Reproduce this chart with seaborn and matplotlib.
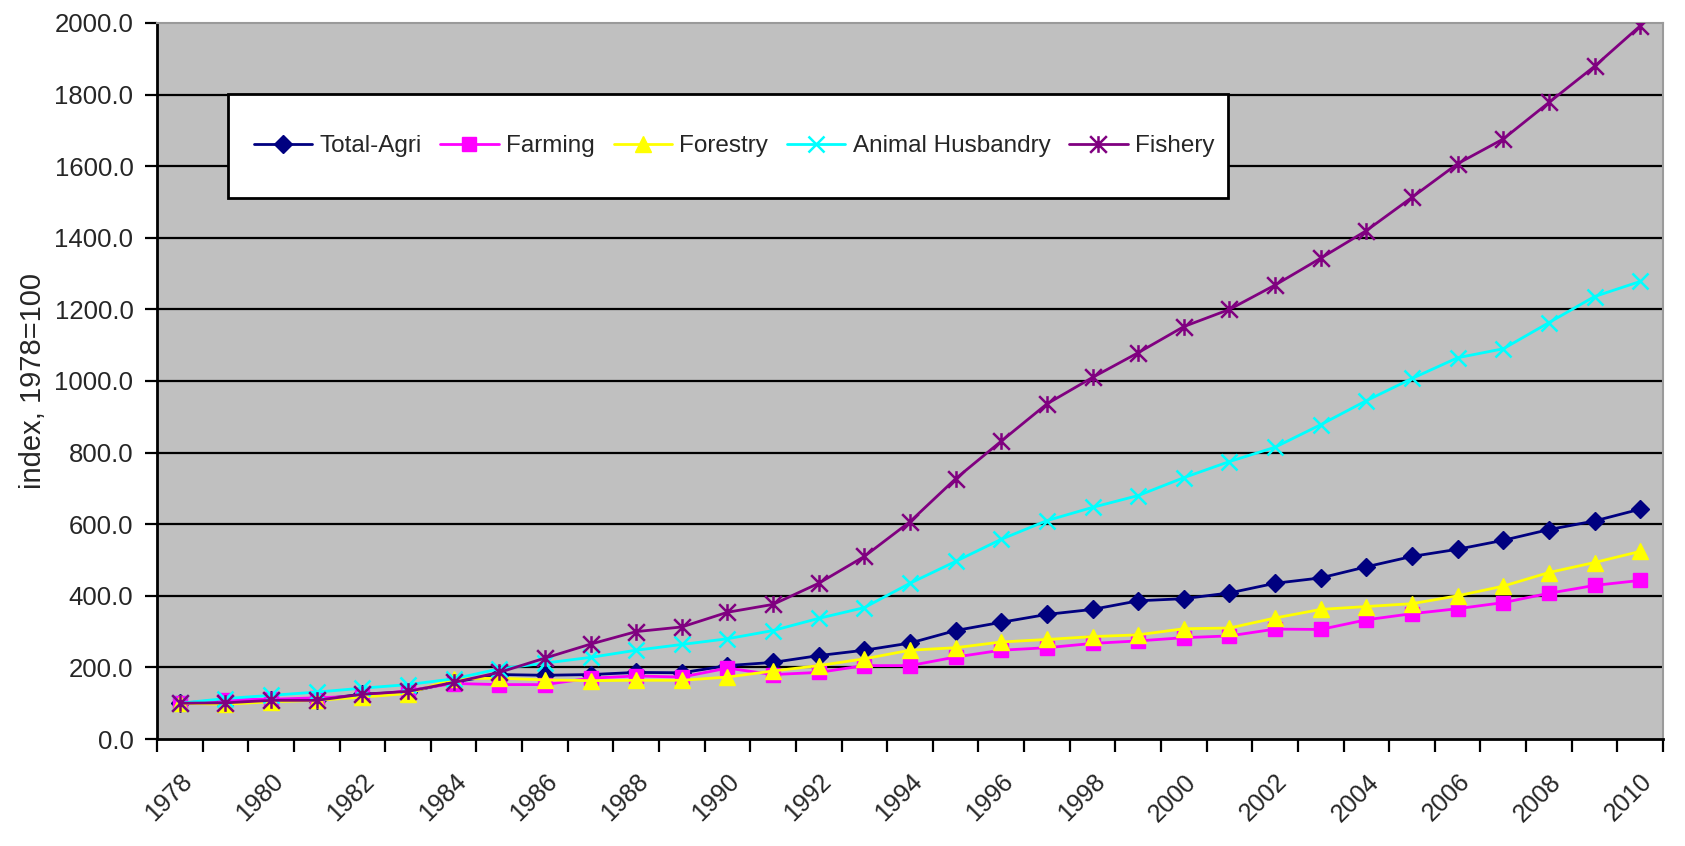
import numpy as np
import pandas as pd
import matplotlib
matplotlib.use("Agg")
import matplotlib.pyplot as plt
from matplotlib.path import Path
from matplotlib.patches import Rectangle
from matplotlib.ticker import FixedLocator, NullFormatter
import seaborn as sns

years = list(range(1978, 2011))
total_agri = [100, 101, 110, 110, 125, 131, 159, 180, 178, 180, 186, 185, 205, 214,
              233, 248, 268, 303, 326, 348, 362, 386, 392, 408, 435, 450, 481, 510,
              530, 555, 585, 609, 642]
farming = [100, 110, 111, 115, 120, 135, 155, 152, 152, 170, 176, 173, 198, 180,
           186, 205, 205, 229, 248, 255, 267, 274, 283, 288, 307, 306, 333, 350,
           364, 381, 407, 429, 443]
forestry = [100, 97, 104, 108, 117, 127, 168, 170, 165, 163, 164, 164, 173, 190,
            205, 224, 248, 255, 271, 278, 286, 291, 308, 310, 338, 362, 370, 378,
            400, 427, 465, 493, 524]
animal_husbandry = [100, 113, 122, 131, 142, 152, 168, 196, 212, 228, 248, 264, 280,
                    303, 337, 367, 435, 496, 558, 610, 647, 680, 730, 775, 815, 878,
                    945, 1007, 1065, 1090, 1163, 1236, 1278]
fishery = [100, 101, 108, 108, 125, 133, 158, 186, 226, 265, 300, 313, 354, 376,
           435, 510, 607, 727, 832, 936, 1010, 1079, 1152, 1200, 1268, 1343, 1420,
           1513, 1607, 1676, 1778, 1879, 1992]

series_names = ["Total-Agri", "Farming", "Forestry", "Animal Husbandry", "Fishery"]
series_values = [total_agri, farming, forestry, animal_husbandry, fishery]
colors = ["#000080", "#FF00FF", "#FFFF00", "#00FFFF", "#800080"]

# Star marker: an "x" crossed by a vertical stroke
star = Path([(-1, -1), (1, 1), (-1, 1), (1, -1), (0, -1), (0, 1)],
            [Path.MOVETO, Path.LINETO, Path.MOVETO, Path.LINETO, Path.MOVETO, Path.LINETO])
markers = ["D", "s", "^", "x", star]
msizes = [9.5, 10, 11, 11, 12]

rows = []
for name, vals in zip(series_names, series_values):
    for i, (yr, v) in enumerate(zip(years, vals)):
        rows.append({"series": name, "pos": i, "year": yr, "value": v})
df = pd.DataFrame(rows)

sns.set_theme(style="white")
plt.rcParams["font.family"] = ["Liberation Sans", "DejaVu Sans"]

fig = plt.figure(figsize=(16.85, 8.46), dpi=100)
ax = fig.add_axes([157 / 1685, 1 - 739 / 846, 1506 / 1685, 716 / 846])
ax.set_facecolor("#C0C0C0")

for name, col, mk, ms in zip(series_names, colors, markers, msizes):
    sub = df[df["series"] == name]
    sns.lineplot(data=sub, x="pos", y="value", ax=ax, color=col, marker=mk,
                 markersize=ms, markeredgecolor=col, markerfacecolor=col,
                 markeredgewidth=1.8 if name in ("Animal Husbandry", "Fishery") else 1,
                 linewidth=2.0, label=name, zorder=3)

ax.set_xlim(-0.5, len(years) - 0.5)
ax.set_ylim(0, 2000)

# y axis
yt = np.arange(0, 2001, 200)
ax.set_yticks(yt)
ax.set_yticklabels([f"{v:.1f}" for v in yt], fontsize=18.5)
for v in yt[1:-1]:
    ax.axhline(v, color="black", lw=1.6, zorder=1)

# x axis: tick marks at category boundaries, labels at every second category
ax.xaxis.set_major_locator(FixedLocator(np.arange(-0.5, len(years), 1)))
ax.xaxis.set_major_formatter(NullFormatter())
lab_pos = list(range(0, len(years), 2))
ax.xaxis.set_minor_locator(FixedLocator(lab_pos))
ax.set_xticklabels([str(years[p]) for p in lab_pos], minor=True, fontsize=18,
                   rotation=45, ha="right", va="top", rotation_mode="anchor")
ax.tick_params(axis="x", which="major", direction="out", length=9, width=1.6,
               color="black", bottom=True)
ax.tick_params(axis="x", which="minor", length=0, pad=22, bottom=True)
ax.tick_params(axis="y", direction="out", length=9, width=1.6, color="black",
               left=True, pad=8)

ax.set_xlabel("")
ax.set_ylabel("index, 1978=100", fontsize=21, labelpad=5)

for side in ("left", "bottom"):
    ax.spines[side].set_color("black")
    ax.spines[side].set_linewidth(2)
for side in ("top", "right"):
    ax.spines[side].set_color("#9A9A9A")
    ax.spines[side].set_linewidth(1.5)

# Legend box: white panel with a black border, entries laid out in one row inside it
box_x, box_y, box_w, box_h = 0.0471, 0.7556, 0.664, 0.1452
ax.add_patch(Rectangle((box_x, box_y), box_w, box_h, transform=ax.transAxes,
                       facecolor="white", edgecolor="black", linewidth=2, zorder=4))
leg = ax.legend(loc="center left",
                bbox_to_anchor=(box_x + 0.017, box_y, box_w - 0.026, box_h),
                mode="expand", ncol=5, fontsize=17.5, frameon=False,
                handlelength=2.4, handletextpad=0.3, borderpad=0,
                borderaxespad=0, columnspacing=0.8)
leg.set_zorder(5)

fig.savefig("out.png", dpi=100)
